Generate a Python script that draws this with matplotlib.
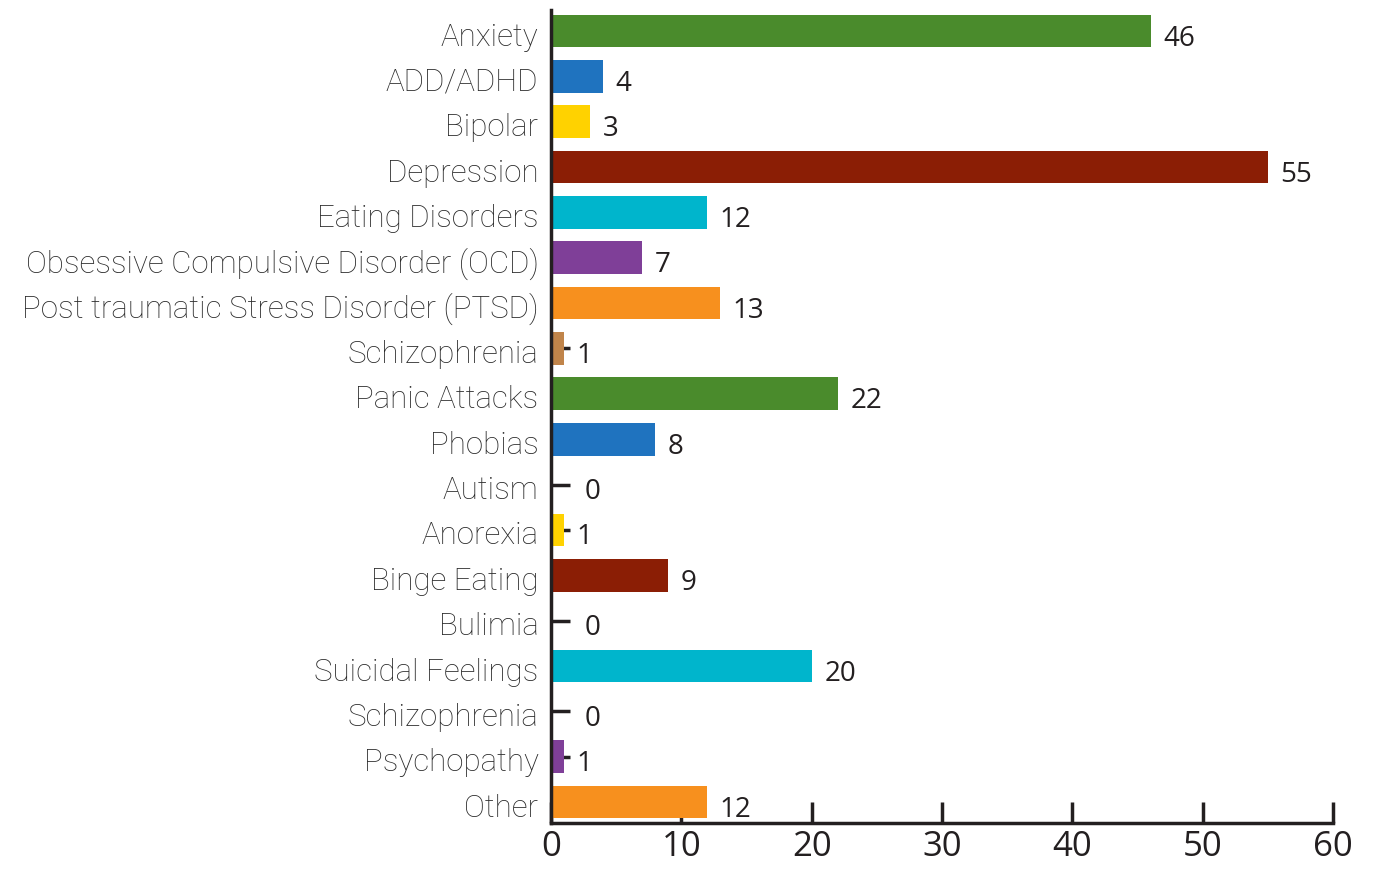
import matplotlib
matplotlib.use("Agg")
import matplotlib.pyplot as plt
import numpy as np

categories = ["Anxiety", "ADD/ADHD", "Bipolar", "Depression", "Eating Disorders",
              "Obsessive Compulsive Disorder (OCD)",
              "Post traumatic Stress Disorder (PTSD)", "Schizophrenia",
              "Panic Attacks", "Phobias", "Autism", "Anorexia", "Binge Eating",
              "Bulimia", "Suicidal Feelings", "Schizophrenia", "Psychopathy", "Other"]
counts = [46, 4, 3, 55, 12, 7, 13, 1, 22, 8, 0, 1, 9, 0, 20, 0, 1, 12]
colors = ["#4a8b2c", "#1f73bf", "#ffd200", "#8b1e05", "#00b5cc", "#7f3f98",
          "#f7901e", "#c0844a", "#4a8b2c", "#1f73bf", "#ffd200", "#ffd200",
          "#8b1e05", "#00b5cc", "#00b5cc", "#7f3f98", "#7f3f98", "#f7901e"]
xticks = [0, 10, 20, 30, 40, 50, 60]

fig = plt.figure(figsize=(13.88, 8.72), dpi=100)
ax = fig.add_axes([551 / 1388, 1 - 823 / 872, (1333 - 551) / 1388, 813 / 872])

y = np.arange(len(categories))
ax.barh(y, counts, height=0.72, color=colors, zorder=2)
ax.set_axisbelow(True)

ax.set_xlim(0, 60)
ax.set_ylim(len(categories) - 0.537, -0.463)

for spine in ["top", "right"]:
    ax.spines[spine].set_visible(False)
for spine in ["left", "bottom"]:
    ax.spines[spine].set_linewidth(2.5)
    ax.spines[spine].set_color("#231f20")
    ax.spines[spine].set_zorder(3)

ax.set_yticks(y)
ax.set_yticklabels(categories, fontsize=22.5, family="Roboto", fontweight="light",
                   color="#2a2a2a")
ax.tick_params(axis="y", direction="in", length=14, width=2.5, color="#231f20", pad=9)
for lab in ax.get_yticklabels():
    lab.set_verticalalignment("baseline")
    lab.set_transform(lab.get_transform() + matplotlib.transforms.ScaledTranslation(
        0, -10.5 / 72, fig.dpi_scale_trans))

ax.set_xticks(xticks)
ax.set_xticklabels([str(t) for t in xticks], fontsize=25, family="Open Sans",
                   color="#231f20")
ax.tick_params(axis="x", direction="in", length=15, width=2.5, color="#231f20", pad=5)

# value labels after each bar end; zero bars get a wider gap past the tick
for yi, v in zip(y, counts):
    off = 24 if v == 0 else 9
    ax.annotate(str(v), (v, yi), xytext=(off, -10.5), textcoords="offset points",
                ha="left", va="baseline", fontsize=20, family="Open Sans",
                color="#231f20")

fig.savefig("out.png", dpi=100)
